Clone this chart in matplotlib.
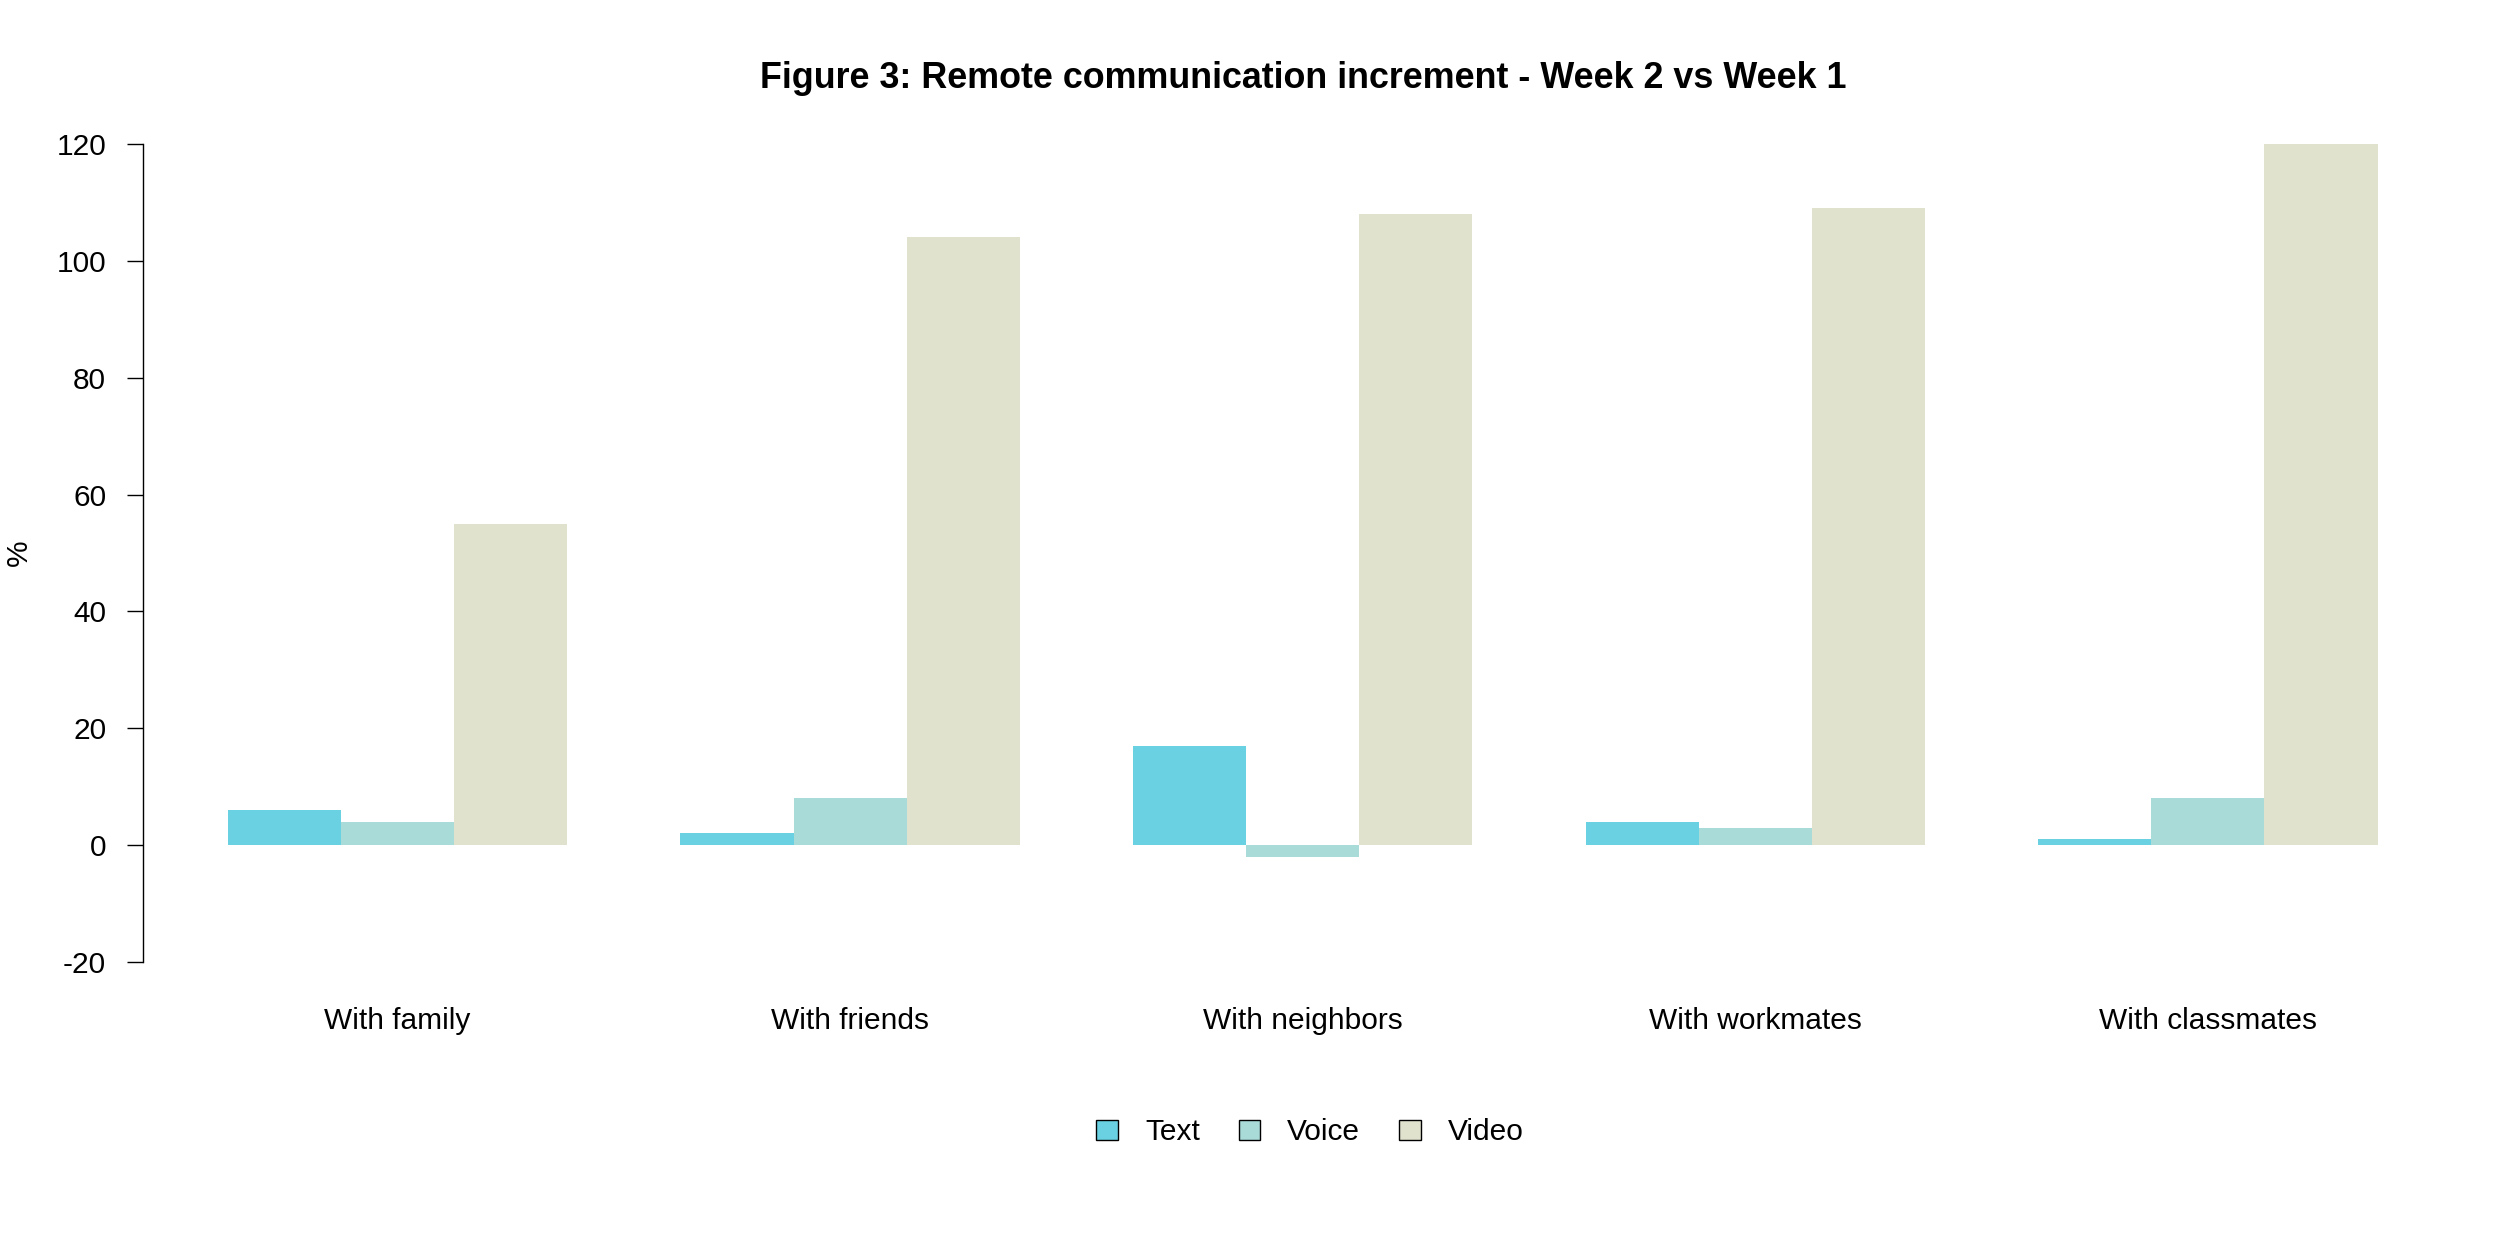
import numpy as np
import matplotlib.pyplot as plt
from matplotlib.patches import Patch

plt.rcParams['font.family'] = ['Liberation Sans', 'DejaVu Sans']
plt.rcParams['axes.unicode_minus'] = False

groups = ['With family', 'With friends', 'With neighbors', 'With workmates', 'With classmates']
series = ['Text', 'Voice', 'Video']
text_vals = [6, 2, 17, 4, 1]
voice_vals = [4, 8, -2, 3, 8]
video_vals = [55, 104, 108, 109, 120]
colors = ['#6AD1E3', '#A9DBD9', '#E0E2CD']

fig = plt.figure(figsize=(25, 12.5), dpi=100)
ax = fig.add_axes([0.0572, 0.2043, 0.985 - 0.0572, 0.911 - 0.2043])

# R-style beside barplot: one unit gap between groups
starts = 1 + 4 * np.arange(len(groups))
for k, (name, vals) in enumerate(zip(series, [text_vals, voice_vals, video_vals])):
    ax.bar(starts + k, vals, width=1.0, align='edge', color=colors[k], linewidth=0, label=name)

ax.set_xlim(0.25, 20.75)
ax.set_ylim(-25.6, 125.6)
ax.set_yticks(np.arange(-20, 121, 20))
ax.set_xticks(starts + 1.5)
ax.set_xticklabels(groups)
for s in ['top', 'right', 'bottom']:
    ax.spines[s].set_visible(False)
ax.spines['left'].set_bounds(-20, 120)
ax.spines['left'].set_linewidth(1.0)
ax.tick_params(axis='y', length=11.5, width=1.0, labelsize=21.5, pad=15)
ax.tick_params(axis='x', length=0, labelsize=21.5, pad=9)
ax.set_ylabel('%', fontsize=21.5, labelpad=17)

ax.set_title('Figure 3: Remote communication increment - Week 2 vs Week 1',
             fontsize=25.8, fontweight='bold', pad=17)

handles = [Patch(facecolor=c, edgecolor='black', linewidth=1.0) for c in colors]
fig.legend(handles, series, loc='center', bbox_to_anchor=(0.524, 0.094), ncol=3,
           frameon=False, fontsize=21.5, handlelength=0.73, handleheight=0.65,
           handletextpad=0.9, columnspacing=1.3)

fig.savefig('out.png', dpi=100)
